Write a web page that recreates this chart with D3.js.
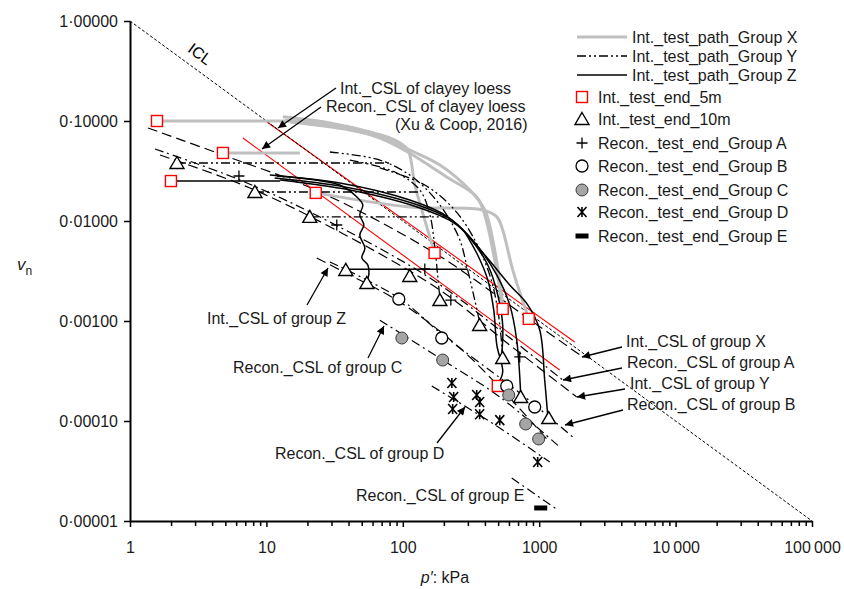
<!DOCTYPE html>
<html>
<head>
<meta charset="utf-8">
<script src="https://cdn.jsdelivr.net/npm/d3@7"></script>
<style>
  html, body { margin: 0; padding: 0; background: #fff; }
  svg { display: block; font-family: "Liberation Sans", Arial, sans-serif; }
</style>
</head>
<body>
<svg id="chart" width="844" height="589"></svg>
<script>
// ---------- axis ticks ----------
const xTickValues = [1, 10, 100, 1000, 10000, 100000];
const xTickLabels = ["1", "10", "100", "1000", "10\u2009000", "100\u2009000"];
const yTickValues = [0.00001, 0.0001, 0.001, 0.01, 0.1, 1];
const yTickLabels = ["0·00001", "0·00010", "0·00100", "0·01000", "0·10000", "1·00000"];

// ---------- reference lines (p' kPa, vn) ----------
const iclLine = [[1, 1], [100000, 0.00001]];
const clayeyIntCSL = [[10.1, 0.0977], [1820, 0.000617]];
const clayeyReconCSL = [[6.73, 0.0676], [1413, 0.000324]];

// critical state lines of the groups
const intCSL_X = [[1.355, 0.0851], [4.80, 0.0457], [23.0, 0.0204], [171, 0.00479], [838, 0.00105], [2083, 0.000437]];
const reconCSL_A = [[1.524, 0.0525], [6.40, 0.0257], [29.2, 0.00977], [158, 0.00269], [514, 0.000813], [1486, 0.000257]];
const intCSL_Y = [[1.659, 0.0457], [7.57, 0.0214], [34.5, 0.00776], [187, 0.00204], [608, 0.000575], [1884, 0.000174]];
const intCSL_Z = [[23.4, 0.00427], [40.9, 0.00288], [95.1, 0.00155], [262, 0.000537], [608, 0.000170], [1153, 0.0000646]];
const reconCSL_B = [[29.2, 0.00389], [93.5, 0.00170], [193, 0.000741], [578, 0.000240], [927, 0.000145], [1758, 0.0000692]];
const reconCSL_C = [[67.9, 0.00102], [196, 0.000407], [514, 0.000174], [1413, 0.0000550]];
const reconCSL_D = [[163, 0.000224], [285, 0.000141], [514, 0.0000851], [1194, 0.0000389]];
const reconCSL_E = [[629, 0.0000269], [1368, 0.0000129]];

// ---------- test end points ----------
const int5mEnd = [[1.577, 0.1], [4.80, 0.0479], [1.996, 0.0251], [23.0, 0.0191], [171, 0.00479], [540, 0.00132], [838, 0.00105], [497, 0.000224]];
const int10mEnd = [[2.21, 0.0380], [8.24, 0.0195], [20.8, 0.0110], [38.2, 0.00324], [112.5, 0.00282], [54.5, 0.00240], [187, 0.00162], [366, 0.000912], [540, 0.000427], [731, 0.000174], [1175, 0.000107]];
const reconEndA = [[6.29, 0.0282], [32.8, 0.00912], [145, 0.00331], [225, 0.00162], [720, 0.000437]];
const reconEndB = [[93.5, 0.00166], [193, 0.000676], [578, 0.000224], [927, 0.000138]];
const reconEndC = [[98.4, 0.000676], [196, 0.000407], [598, 0.000182], [796, 0.0000933], [991, 0.0000661]];
const reconEndD = [[229, 0.000240], [236, 0.000174], [232, 0.000132], [348, 0.000182], [366, 0.000155], [366, 0.000117], [514, 0.000102], [975, 0.0000389]];
const reconEndE = [[1026, 0.0000135]];

// ---------- test paths ----------
const pathsGroupX = [
  [[1.577, 0.1], [22.6, 0.1]],
  [[4.80, 0.0479], [17.6, 0.0479]],
  [[13.2, 0.110], [29.2, 0.0955], [57.3, 0.0776], [87.4, 0.0646], [108.8, 0.0513], [122.5, 0.0229], [145, 0.0102], [171, 0.00479]],
  [[13.7, 0.102], [34.5, 0.0871], [67.9, 0.0676], [108.8, 0.0490], [210, 0.0275], [348, 0.0174], [399, 0.0115], [472, 0.00407], [540, 0.00132]],
  [[14.9, 0.0977], [40.9, 0.0813], [80.3, 0.0646], [112.5, 0.0513], [187, 0.0363], [310, 0.0204], [399, 0.0129], [472, 0.00513], [540, 0.00145]],
  [[23.0, 0.0191], [112.5, 0.0138], [385, 0.0129], [489, 0.0110], [540, 0.00813], [640, 0.00324], [838, 0.00105]]
];
const pathsGroupY = [
  [[2.21, 0.0380], [80.3, 0.0380]],
  [[8.24, 0.0195], [133.3, 0.0195]],
  [[20.8, 0.0110], [214, 0.0110]],
  [[29.2, 0.049], [67.9, 0.0407], [112.5, 0.0288], [158, 0.0191], [210, 0.0115], [262, 0.00646], [299, 0.00324], [337, 0.00162], [366, 0.000977]],
  [[40.9, 0.0407], [87.4, 0.0309], [133.3, 0.0204], [158, 0.0115], [171, 0.00575], [180, 0.00288], [187, 0.00170]],
  [[67.9, 0.0339], [145, 0.0229], [240, 0.0129], [337, 0.00646], [434, 0.00288], [497, 0.00129], [540, 0.000457]]
];
const pathsGroupZ = [
  [[1.996, 0.0251], [12.6, 0.0251]],
  [[38.2, 0.0033], [299, 0.0033]],
  [[11.9, 0.0282], [34.5, 0.0229], [46.0, 0.0174], [50.9, 0.0145], [48.4, 0.0115], [51.8, 0.00912], [48.4, 0.00724], [52.7, 0.00537], [50.1, 0.00427], [55.4, 0.00363], [56.3, 0.00288], [54.5, 0.00251]],
  [[10.6, 0.0288], [34.5, 0.0240], [112.5, 0.0162], [210, 0.0112], [310, 0.00676], [420, 0.00363], [497, 0.00182], [540, 0.000912], [531, 0.000457]],
  [[11.5, 0.0269], [37.6, 0.0219], [122.5, 0.0148], [229, 0.0102], [348, 0.00575], [489, 0.00288], [608, 0.00145], [684, 0.000646], [731, 0.000191]],
  [[12.6, 0.0257], [40.9, 0.0204], [133.3, 0.0135], [249, 0.00912], [399, 0.00457], [608, 0.00229], [824, 0.00145], [1009, 0.000813], [1097, 0.000257], [1153, 0.000117]],
  [[285, 0.00776], [354, 0.00457], [420, 0.00257], [464, 0.00129], [489, 0.000575], [540, 0.000309], [497, 0.000234]]
];

// ---------- drawing ----------
const svg = d3.select("#chart");
const x = d3.scaleLog().domain([1, 100000]).range([130, 812]);
const y = d3.scaleLog().domain([0.00001, 1]).range([521, 21]);

const DASH_LONG = "10,5";
const DASH_DOT = "9,4,2,4";
const DASH_DOT_DOT = "9,3,2,3,2,3";

const smooth = d3.line().x(d => x(d[0])).y(d => y(d[1])).curve(d3.curveCatmullRom.alpha(0.5));
const straight = d3.line().x(d => x(d[0])).y(d => y(d[1]));

svg.append("defs").append("marker")
  .attr("id", "arrowHead")
  .attr("viewBox", "0 0 10 10")
  .attr("refX", 10).attr("refY", 5)
  .attr("markerUnits", "userSpaceOnUse")
  .attr("markerWidth", 10).attr("markerHeight", 8)
  .attr("orient", "auto")
  .append("path").attr("d", "M0,0 L10,5 L0,10 Z").attr("fill", "#000");

const plot = svg.append("g");

// critical state lines
const cslLines = [
  { data: intCSL_X, dash: DASH_LONG },
  { data: reconCSL_A, dash: DASH_DOT },
  { data: intCSL_Y, dash: DASH_LONG },
  { data: intCSL_Z, dash: DASH_LONG },
  { data: reconCSL_B, dash: DASH_DOT },
  { data: reconCSL_C, dash: DASH_DOT },
  { data: reconCSL_D, dash: DASH_DOT },
  { data: reconCSL_E, dash: DASH_DOT }
];
plot.selectAll("path.csl").data(cslLines).join("path")
  .attr("class", "csl")
  .attr("d", d => smooth(d.data))
  .attr("fill", "none").attr("stroke", "#000").attr("stroke-width", 1.2)
  .attr("stroke-dasharray", d => d.dash);

// clayey loess CSLs (red)
plot.selectAll("path.clayey").data([clayeyIntCSL, clayeyReconCSL]).join("path")
  .attr("class", "clayey")
  .attr("d", straight)
  .attr("fill", "none").attr("stroke", "#ff0000").attr("stroke-width", 1.1);

// ICL
plot.append("path").attr("d", straight(iclLine))
  .attr("fill", "none").attr("stroke", "#000").attr("stroke-width", 1)
  .attr("stroke-dasharray", "3,2");
{
  const a = iclLine[0], b = iclLine[1];
  const ang = Math.atan2(y(b[1]) - y(a[1]), x(b[0]) - x(a[0])) * 180 / Math.PI;
  svg.append("text").attr("x", 200).attr("y", 54)
    .attr("transform", `rotate(${ang},200,54)`)
    .attr("text-anchor", "middle").attr("dominant-baseline", "central")
    .attr("font-size", 16).text("ICL");
}

// test paths
plot.selectAll("path.gx").data(pathsGroupX).join("path")
  .attr("class", "gx").attr("d", smooth)
  .attr("fill", "none").attr("stroke", "#bfbfbf").attr("stroke-width", 3)
  .attr("stroke-linejoin", "round");
plot.selectAll("path.gy").data(pathsGroupY).join("path")
  .attr("class", "gy").attr("d", smooth)
  .attr("fill", "none").attr("stroke", "#000").attr("stroke-width", 1.3)
  .attr("stroke-dasharray", DASH_DOT_DOT);
plot.selectAll("path.gz").data(pathsGroupZ).join("path")
  .attr("class", "gz").attr("d", smooth)
  .attr("fill", "none").attr("stroke", "#000").attr("stroke-width", 1.5)
  .attr("stroke-linejoin", "round");

// marker shapes
function drawSquare(g) {
  g.append("rect").attr("x", -5.5).attr("y", -5.5).attr("width", 11).attr("height", 11)
    .attr("fill", "#fff").attr("stroke", "#ff0000").attr("stroke-width", 1.4);
}
function drawTriangle(g) {
  g.append("path").attr("d", "M0,-6.5 L7,5.5 L-7,5.5 Z")
    .attr("fill", "#fff").attr("stroke", "#000").attr("stroke-width", 1.4);
}
function drawPlus(g) {
  g.append("path").attr("d", "M-5.5,0 H5.5 M0,-5.5 V5.5")
    .attr("stroke", "#000").attr("stroke-width", 1.3);
}
function drawOpenCircle(g) {
  g.append("circle").attr("r", 6).attr("fill", "#fff").attr("stroke", "#000").attr("stroke-width", 1.3);
}
function drawGreyCircle(g) {
  g.append("circle").attr("r", 6).attr("fill", "#a5a5a5").attr("stroke", "#3a3a3a").attr("stroke-width", 1);
}
function drawStar(g) {
  g.append("path").attr("d", "M-4.5,-5 L4.5,5 M4.5,-5 L-4.5,5 M0,-5 V5")
    .attr("stroke", "#000").attr("stroke-width", 1.6);
}
function drawBar(g) {
  g.append("rect").attr("x", -6.5).attr("y", -2.5).attr("width", 13).attr("height", 5).attr("fill", "#000");
}

function markerSeries(data, shape) {
  plot.append("g").selectAll("g").data(data).join("g")
    .attr("transform", d => `translate(${x(d[0])},${y(d[1])})`)
    .each(function () { shape(d3.select(this)); });
}
markerSeries(int5mEnd, drawSquare);
markerSeries(int10mEnd, drawTriangle);
markerSeries(reconEndA, drawPlus);
markerSeries(reconEndB, drawOpenCircle);
markerSeries(reconEndC, drawGreyCircle);
markerSeries(reconEndD, drawStar);
markerSeries(reconEndE, drawBar);

// axes
svg.append("g").attr("transform", "translate(0,521)")
  .call(d3.axisBottom(x).tickValues(xTickValues).tickFormat((d, i) => xTickLabels[i])
    .tickSize(6).tickSizeOuter(0).tickPadding(15));
const minorX = [];
xTickValues.slice(0, -1).forEach(dec => { for (let k = 2; k <= 9; k++) minorX.push(dec * k); });
svg.append("g").attr("transform", "translate(0,521)")
  .call(d3.axisBottom(x).tickValues(minorX).tickFormat("").tickSize(5).tickSizeOuter(0))
  .call(g => g.select(".domain").remove());
svg.append("g").attr("transform", "translate(130,0)")
  .call(d3.axisLeft(y).tickValues(yTickValues).tickFormat((d, i) => yTickLabels[i])
    .tickSize(6).tickSizeOuter(0).tickPadding(6));
svg.selectAll(".domain").attr("stroke", "#000").attr("stroke-width", 2);
svg.selectAll(".tick line").attr("stroke", "#000").attr("stroke-width", 1.5);
svg.selectAll(".tick text").attr("font-size", 16).attr("fill", "#1a1a1a")
  .attr("font-family", "'Liberation Sans', Arial, sans-serif");

// axis titles
const xt = svg.append("text").attr("x", 445).attr("y", 583).attr("text-anchor", "middle")
  .attr("font-size", 16).attr("fill", "#1a1a1a");
xt.append("tspan").attr("font-style", "italic").text("p\u2032");
xt.append("tspan").text(": kPa");
const yt = svg.append("text").attr("x", 17).attr("y", 270).attr("font-size", 17).attr("fill", "#1a1a1a");
yt.append("tspan").attr("font-style", "italic").text("v");
yt.append("tspan").attr("font-size", 12).attr("dy", 5).text("n");

// annotations
const annotations = [
  { text: "Int._CSL of clayey loess", tx: 340, ty: 88, from: [336, 88], to: [278, 128] },
  { text: "Recon._CSL of clayey loess", tx: 326, ty: 106, from: [321, 107], to: [262, 149] },
  { text: "(Xu & Coop, 2016)", tx: 395, ty: 124 },
  { text: "Int._CSL of group X", tx: 626, ty: 341, from: [622, 347], to: [582, 357] },
  { text: "Recon._CSL of group A", tx: 627, ty: 362, from: [622, 368], to: [563, 380] },
  { text: "Int._CSL of group Y", tx: 630, ty: 383, from: [625, 389], to: [577, 397] },
  { text: "Recon._CSL of group B", tx: 627, ty: 404, from: [623, 410], to: [565, 425] },
  { text: "Int._CSL of group Z", tx: 207, ty: 318, from: [307, 305], to: [328, 268] },
  { text: "Recon._CSL of group C", tx: 233, ty: 367, from: [368, 358], to: [384, 326] },
  { text: "Recon._CSL of group D", tx: 275, ty: 453, from: [437, 443], to: [465, 407] },
  { text: "Recon._CSL of group E", tx: 356, ty: 495 }
];
const ann = svg.append("g");
annotations.forEach(a => {
  ann.append("text").attr("x", a.tx).attr("y", a.ty).attr("dominant-baseline", "central")
    .attr("font-size", 16).attr("fill", "#1a1a1a").text(a.text);
  if (a.from) {
    ann.append("line").attr("x1", a.from[0]).attr("y1", a.from[1]).attr("x2", a.to[0]).attr("y2", a.to[1])
      .attr("stroke", "#000").attr("stroke-width", 1.3).attr("marker-end", "url(#arrowHead)");
  }
});

// legend
const legendItems = [
  { label: "Int._test_path_Group X", kind: "line", stroke: "#bfbfbf", width: 3, dash: null },
  { label: "Int._test_path_Group Y", kind: "line", stroke: "#000", width: 1.3, dash: DASH_DOT_DOT },
  { label: "Int._test_path_Group Z", kind: "line", stroke: "#000", width: 1.5, dash: null },
  { label: "Int._test_end_5m", kind: "mark", shape: drawSquare },
  { label: "Int._test_end_10m", kind: "mark", shape: drawTriangle },
  { label: "Recon._test_end_Group A", kind: "mark", shape: drawPlus },
  { label: "Recon._test_end_Group B", kind: "mark", shape: drawOpenCircle },
  { label: "Recon._test_end_Group C", kind: "mark", shape: drawGreyCircle },
  { label: "Recon._test_end_Group D", kind: "mark", shape: drawStar },
  { label: "Recon._test_end_Group E", kind: "mark", shape: drawBar }
];
const legendRows = [37, 56, 75, 97, 119, 143, 166, 190, 212, 236];
const legend = svg.append("g");
legendItems.forEach((it, i) => {
  const ry = legendRows[i];
  if (it.kind === "line") {
    legend.append("line").attr("x1", 577).attr("x2", 627).attr("y1", ry).attr("y2", ry)
      .attr("stroke", it.stroke).attr("stroke-width", it.width)
      .attr("stroke-dasharray", it.dash);
    legend.append("text").attr("x", 632).attr("y", ry).attr("dominant-baseline", "central")
      .attr("font-size", 16).attr("fill", "#1a1a1a").text(it.label);
  } else {
    const g = legend.append("g").attr("transform", `translate(582,${ry})`);
    it.shape(g);
    legend.append("text").attr("x", 598).attr("y", ry).attr("dominant-baseline", "central")
      .attr("font-size", 16).attr("fill", "#1a1a1a").text(it.label);
  }
});
</script>
</body>
</html>
